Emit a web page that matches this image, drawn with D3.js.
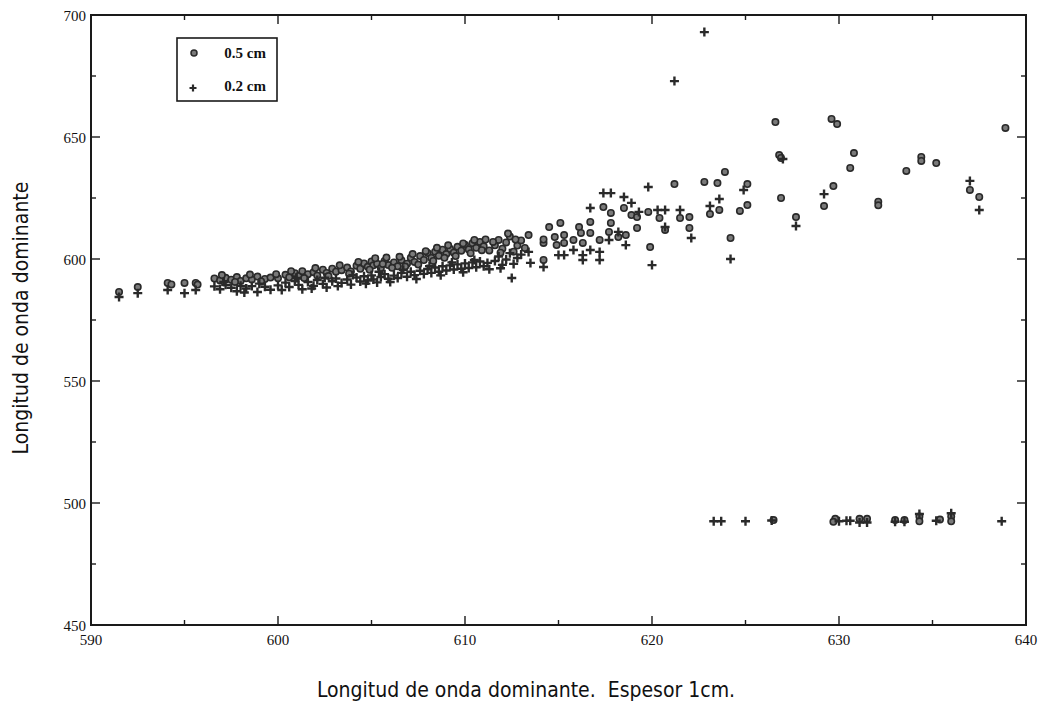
<!DOCTYPE html>
<html>
<head>
<meta charset="utf-8">
<script src="https://cdn.jsdelivr.net/npm/d3@7"></script>
<style>
    body { margin:0; background:#fff; }
    .tick-label { font-family:'Liberation Serif', serif; font-size:15px; fill:#111; }
    .axis-title { font-family:'Liberation Sans Narrow', 'DejaVu Sans Condensed', 'Liberation Sans', sans-serif; font-size:21px; fill:#111; }
    .legend-text { font-family:'Liberation Serif', serif; font-size:15px; font-weight:bold; fill:#111; }
</style>
</head>
<body>
<div id="chart"></div>
<script>
// data
// x = dominant wavelength at 1 cm, y = dominant wavelength at the other thickness
const xTicks = [590, 600, 610, 620, 630, 640];
const yTicks = [450, 500, 550, 600, 650, 700];
const legendLabels = ['0.5 cm', '0.2 cm'];

// 0.5 cm series (circles)
const thick05 = [
    [591.5,586.5],[592.5,588.5],[594.1,590.2],[594.3,589.6],[595.0,590.2],[595.6,590.2],[595.7,589.5],
    [596.6,592.0],[596.9,591.2],[597.2,592.3],[597.5,591.5],[597.8,592.6],[598.0,591.0],[598.3,592.1],
    [598.6,591.6],[598.9,592.8],[599.3,591.8],[599.6,592.4],[600.0,592.1],[600.4,593.5],[600.6,592.5],
    [600.9,594.2],[601.1,593.0],[601.3,595.0],[601.6,593.8],[601.9,594.6],[602.1,593.2],[602.4,595.6],
    [602.6,594.3],[602.9,596.0],[603.1,594.8],[603.4,595.4],[603.7,596.5],[603.9,594.9],[604.2,597.2],
    [604.4,596.0],[604.6,598.2],[604.8,596.8],[605.0,599.0],[605.1,597.4],[605.3,598.1],[605.5,596.3],
    [605.7,599.2],[605.9,597.5],[606.2,598.6],[606.4,597.0],[606.6,599.5],[606.9,598.1],[607.1,600.5],
    [607.3,598.8],[607.6,601.2],[607.8,599.6],[608.0,602.5],[608.2,600.4],[608.4,603.0],[608.6,601.3],
    [608.8,603.8],[609.0,602.0],[609.2,604.2],[609.4,602.6],[609.6,605.0],[609.8,603.4],[610.0,605.8],
    [610.2,603.9],[610.4,606.5],[610.6,604.6],[610.8,607.0],[611.0,605.2],[611.3,603.5],[611.6,605.6],
    [611.8,607.8],[612.0,604.2],[612.2,606.8],[612.4,609.2],[612.6,603.0],[612.8,605.5],[613.0,607.6],
    [597.0,593.4],[597.7,590.6],[598.5,593.6],[599.1,590.8],[599.9,593.8],[600.7,595.0],[601.4,592.2],
    [602.0,596.3],[602.7,593.0],[603.3,597.4],[603.8,594.0],[604.3,598.8],[604.9,595.6],[605.2,600.3],
    [605.6,598.0],[605.8,600.6],[606.1,596.4],[606.5,600.9],[606.8,596.9],[607.2,602.0],[607.5,597.7],
    [607.9,603.2],[608.3,599.2],[608.5,604.6],[608.9,600.5],[609.1,605.6],[609.5,601.2],[609.9,606.4],
    [610.3,602.4],[610.5,607.8],[610.9,603.6],[611.1,608.0],[611.5,607.0],[611.9,602.6],[612.3,610.4],
    [612.7,608.0],[613.2,604.5],
    [613.4,609.8],[614.2,606.6],[614.2,608.0],[614.2,599.6],[614.5,613.1],[614.8,609.0],[614.9,605.7],
    [615.1,614.8],[615.3,609.8],[615.3,606.6],[615.8,607.8],[616.1,613.1],[616.2,610.7],[616.3,606.6],
    [616.7,615.2],[616.7,610.7],[617.2,607.8],[617.4,621.3],[617.8,618.9],[617.8,614.8],[617.7,611.1],
    [618.2,609.0],[618.5,620.9],[618.6,609.8],[618.9,618.0],[619.2,617.2],[619.2,612.7],[619.8,619.3],
    [619.9,604.9],[620.4,616.8],[620.7,611.9],[621.2,630.7],[621.5,616.8],[622.0,617.2],[622.0,612.7],
    [622.8,631.6],[623.5,631.1],[623.9,635.7],[623.6,620.1],[623.1,618.4],[624.2,608.6],[624.7,619.7],
    [625.1,622.1],[625.1,630.7],[626.6,656.1],[626.8,642.6],[626.9,641.4],[626.9,625.0],[627.7,617.2],
    [629.2,621.7],[629.7,629.9],[629.6,657.4],[629.9,655.3],[630.6,637.3],[630.8,643.4],[632.1,623.5],
    [632.1,622.0],[633.6,636.1],[634.4,641.8],[634.4,640.2],[635.2,639.3],[637.0,628.3],[637.5,625.4],
    [638.9,653.7],
    [626.5,493.0],[629.8,493.5],[629.7,492.3],[631.1,493.5],[631.5,493.5],[633.0,493.0],[633.5,493.0],
    [634.3,494.5],[634.3,492.5],[635.4,493.2],[636.0,494.5],[636.0,492.5]
];

// 0.2 cm series (crosses)
const thick02 = [
    [591.5,584.4],[592.5,586.0],[594.1,587.3],[595.0,586.0],[595.6,587.3],
    [596.6,588.8],[596.9,587.6],[597.2,589.4],[597.5,588.2],[597.8,586.8],[598.0,589.0],[598.3,587.9],
    [598.6,588.9],[598.9,586.5],[599.3,588.6],[599.6,587.4],[600.0,589.2],[600.4,590.3],[600.6,588.5],
    [600.9,591.0],[601.1,589.4],[601.3,587.6],[601.6,590.6],[601.9,589.0],[602.1,591.4],[602.4,589.8],
    [602.6,588.3],[602.9,590.9],[603.1,592.0],[603.4,590.2],[603.7,591.6],[603.9,589.5],[604.2,592.4],
    [604.4,590.8],[604.6,592.9],[604.8,591.2],[605.0,593.3],[605.1,591.6],[605.3,590.4],[605.5,592.6],
    [605.7,593.8],[605.9,591.9],[606.2,593.2],[606.4,592.2],[606.6,594.3],[606.9,592.7],[607.1,594.8],
    [607.3,593.4],[607.6,595.2],[607.8,593.9],[608.0,595.9],[608.2,594.3],[608.4,596.5],[608.6,594.8],
    [608.8,597.0],[609.0,595.3],[609.2,597.4],[609.4,595.7],[609.6,597.8],[609.8,596.0],[610.0,598.2],
    [610.2,596.3],[610.4,598.6],[610.6,596.6],[610.8,599.0],[611.0,597.0],[611.3,595.8],[611.6,599.2],
    [611.8,601.0],[612.0,597.6],[612.2,599.8],[612.4,602.4],[612.5,592.2],[612.8,600.4],[613.0,601.8],
    [597.1,590.6],[598.2,586.3],[599.0,589.9],[600.2,587.3],[601.0,592.2],[601.8,587.9],[602.5,592.3],
    [603.2,588.9],[604.0,593.4],[604.7,589.9],[605.4,594.8],[606.0,590.6],[606.7,595.6],[607.4,591.8],
    [608.1,597.1],[608.7,593.3],[609.3,598.6],[609.9,594.6],[610.5,599.6],[611.2,598.4],[611.9,596.2],
    [612.6,598.0],
    [613.4,602.9],[613.5,598.4],[614.2,596.7],[615.0,601.6],[615.3,601.6],[615.8,603.7],[616.3,601.6],
    [616.3,599.6],[616.7,603.7],[616.7,620.9],[617.2,602.9],[617.2,599.6],[617.4,627.0],[617.8,627.0],
    [617.7,607.8],[618.2,611.1],[618.5,625.4],[618.9,623.0],[619.3,619.3],[618.6,605.7],[619.8,629.5],
    [620.0,597.5],[620.3,620.1],[620.7,620.1],[620.7,613.1],[621.2,672.9],[621.5,620.1],[622.1,608.6],
    [622.8,693.0],[623.6,624.6],[623.1,621.7],[624.2,600.0],[624.9,628.3],[627.0,641.0],[627.7,613.5],
    [629.2,626.6],[637.0,632.0],[637.5,620.1],
    [623.3,492.5],[623.7,492.5],[625.0,492.5],[626.4,492.8],[630.0,492.5],[630.4,492.7],[630.6,492.7],
    [631.1,492.0],[631.5,492.0],[633.0,492.3],[633.5,492.3],[634.3,495.5],[635.2,492.7],[636.0,495.8],
    [638.7,492.5]
];

// declaring setup/layout variables
const width = 1050;
const height = 704;
const margin = {t:15, r:24, b:79, l:91};
const w = width - (margin.l + margin.r);
const h = height - (margin.t + margin.b);
const ink = '#1a1a1a';

const svg = d3.select('#chart')
    .append('svg')
    .attr('width', width)
    .attr('height', height);

const plot = svg.append('g')
    .attr('transform', `translate(${margin.l},${margin.t})`);

// setting up scales
const scaleX = d3.scaleLinear()
    .range([0, w])
    .domain([590, 640]);
const scaleY = d3.scaleLinear()
    .range([h, 0])
    .domain([450, 700]);

// inward ticks on all four sides, majors labelled on bottom/left
const minorX = d3.range(590, 641, 5);
const minorY = d3.range(450, 701, 25);

const ticksG = plot.append('g').attr('class', 'ticks');
ticksG.selectAll('.tx')
    .data(minorX)
    .enter()
    .append('g')
    .each(function(d) {
        const len = d % 10 === 0 ? 9 : 5;
        const x = scaleX(d);
        d3.select(this).append('line')
            .attr('x1', x).attr('x2', x).attr('y1', h).attr('y2', h - len);
        d3.select(this).append('line')
            .attr('x1', x).attr('x2', x).attr('y1', 0).attr('y2', len);
    });
ticksG.selectAll('.ty')
    .data(minorY)
    .enter()
    .append('g')
    .each(function(d) {
        const len = d % 50 === 0 ? 9 : 5;
        const y = scaleY(d);
        d3.select(this).append('line')
            .attr('x1', 0).attr('x2', len).attr('y1', y).attr('y2', y);
        d3.select(this).append('line')
            .attr('x1', w).attr('x2', w - len).attr('y1', y).attr('y2', y);
    });
ticksG.selectAll('line')
    .style('stroke', ink)
    .style('stroke-width', 1.4);

// frame
plot.append('rect')
    .attr('x', 0)
    .attr('y', 0)
    .attr('width', w)
    .attr('height', h)
    .style('fill', 'none')
    .style('stroke', ink)
    .style('stroke-width', 2);

// tick labels
plot.selectAll('.x-label')
    .data(xTicks)
    .enter()
    .append('text')
    .attr('class', 'tick-label')
    .attr('x', d => scaleX(d))
    .attr('y', h + 20)
    .attr('text-anchor', 'middle')
    .text(d => d);

plot.selectAll('.y-label')
    .data(yTicks)
    .enter()
    .append('text')
    .attr('class', 'tick-label')
    .attr('x', -5)
    .attr('y', d => scaleY(d) + 6)
    .attr('text-anchor', 'end')
    .text(d => d);

// axis titles
svg.append('text')
    .attr('class', 'axis-title')
    .attr('x', 526)
    .attr('y', 697)
    .attr('text-anchor', 'middle')
    .style('white-space', 'pre')
    .text('Longitud de onda dominante.  Espesor 1cm.');

svg.append('text')
    .attr('class', 'axis-title')
    .attr('transform', 'translate(28,318) rotate(-90)')
    .attr('text-anchor', 'middle')
    .text('Longitud de onda dominante');

// marks
const crossPath = 'M-4.5,0H4.5M0,-4.5V4.5';

plot.append('g')
    .selectAll('circle')
    .data(thick05)
    .enter()
    .append('circle')
    .attr('cx', d => scaleX(d[0]))
    .attr('cy', d => scaleY(d[1]))
    .attr('r', 3.2)
    .style('fill', '#7a7a7a')
    .style('stroke', '#2a2a2a')
    .style('stroke-width', 1.6);

plot.append('g')
    .selectAll('path')
    .data(thick02)
    .enter()
    .append('path')
    .attr('transform', d => `translate(${scaleX(d[0])},${scaleY(d[1])})`)
    .attr('d', crossPath)
    .style('stroke', '#2a2a2a')
    .style('stroke-width', 2.4)
    .style('fill', 'none');

// legend
const legend = svg.append('g')
    .attr('transform', 'translate(177,38)');
legend.append('rect')
    .attr('width', 100)
    .attr('height', 63)
    .style('fill', '#fff')
    .style('stroke', ink)
    .style('stroke-width', 1.6);
legend.append('circle')
    .attr('cx', 17)
    .attr('cy', 15)
    .attr('r', 3)
    .style('fill', '#7a7a7a')
    .style('stroke', '#2a2a2a')
    .style('stroke-width', 1.5);
legend.append('path')
    .attr('transform', 'translate(16,50)')
    .attr('d', 'M-3.5,0H3.5M0,-3.5V3.5')
    .style('stroke', '#2a2a2a')
    .style('stroke-width', 2.2);
legend.selectAll('.legend-text')
    .data(legendLabels)
    .enter()
    .append('text')
    .attr('class', 'legend-text')
    .attr('x', 89)
    .attr('y', (d, i) => i === 0 ? 20 : 53)
    .attr('text-anchor', 'end')
    .text(d => d);
</script>
</body>
</html>
